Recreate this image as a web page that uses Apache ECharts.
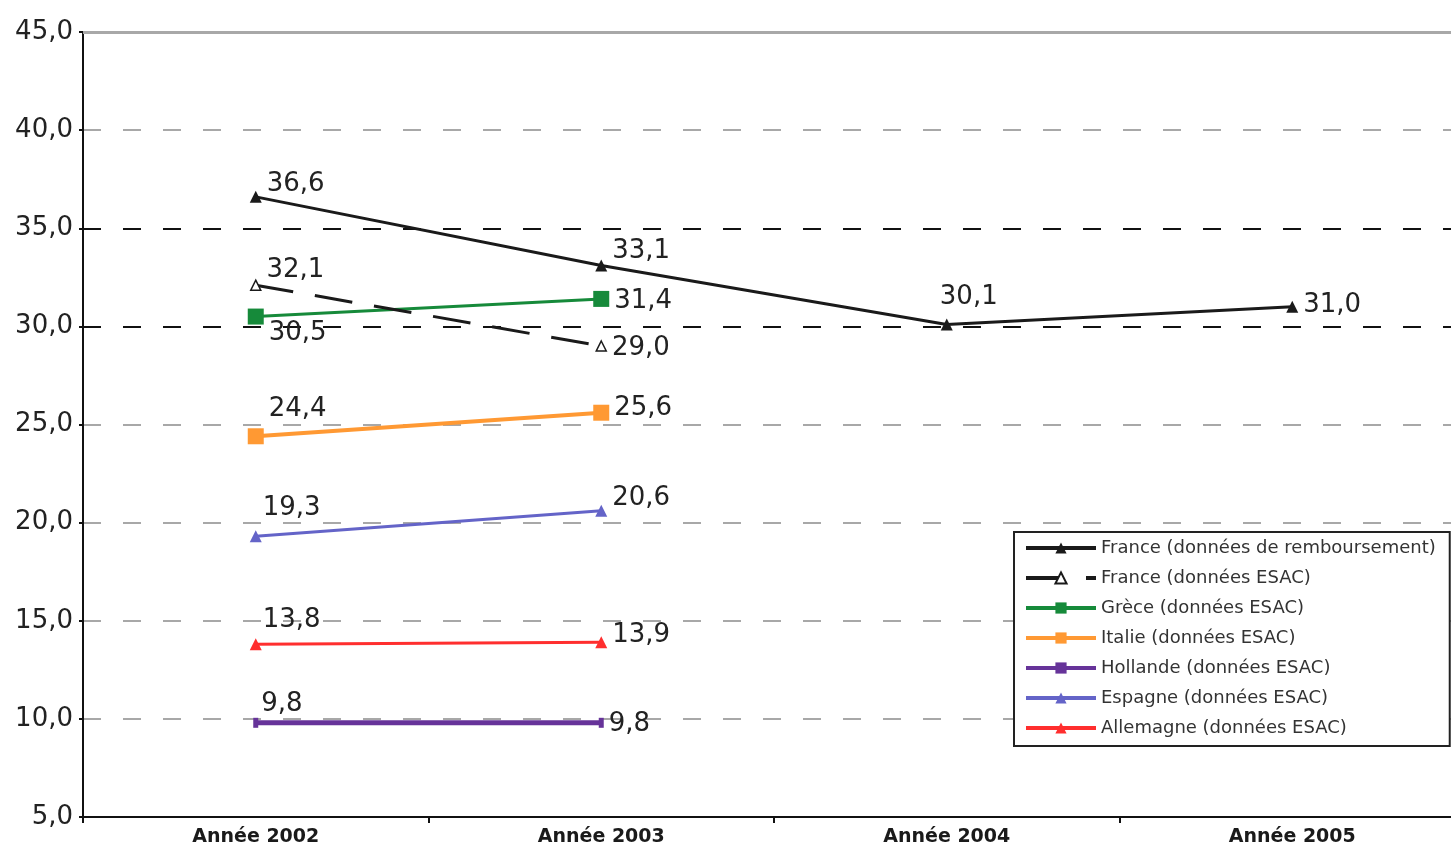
<!DOCTYPE html>
<html>
<head>
<meta charset="utf-8">
<script src="https://cdn.jsdelivr.net/npm/echarts@6/dist/echarts.min.js"></script>
<style>
  html, body { margin: 0; padding: 0; background: #fff; }
  #chart { width: 1451px; height: 848px; }
</style>
</head>
<body>
<div id="chart"></div>
<script>
// Consumption figures by country, 2002–2005
const categories = ['Année 2002', 'Année 2003', 'Année 2004', 'Année 2005'];
const yTicks = [5, 10, 15, 20, 25, 30, 35, 40, 45];

const seriesNames = [
  'France (données de remboursement)',
  'France (données ESAC)',
  'Grèce (données ESAC)',
  'Italie (données ESAC)',
  'Hollande (données ESAC)',
  'Espagne (données ESAC)',
  'Allemagne (données ESAC)'
];
const franceRemb = [36.6, 33.1, 30.1, 31.0];
const franceEsac = [32.1, 29.0, null, null];
const grece = [30.5, 31.4, null, null];
const italie = [24.4, 25.6, null, null];
const hollande = [9.8, 9.8, null, null];
const espagne = [19.3, 20.6, null, null];
const allemagne = [13.8, 13.9, null, null];

// Visual styling per series
const styles = [
  { color: '#1a1a1a', symbol: 'triangle', size: 12, type: 'solid', width: 3 },
  { color: '#1a1a1a', symbol: 'triangle', size: 10, type: [38, 22], fill: '#ffffff', width: 3 },
  { color: '#168a3a', symbol: 'rect', size: 16, type: 'solid', width: 3 },
  { color: '#ff9933', symbol: 'rect', size: 16, type: 'solid', width: 4 },
  { color: '#663399', symbol: 'rect', size: [5, 10], type: 'solid', width: 5 },
  { color: '#6464c8', symbol: 'triangle', size: 12, type: 'solid', width: 3 },
  { color: '#ff2e2e', symbol: 'triangle', size: 12, type: 'solid', width: 3 }
];

// Label placement per point: [position, dx, dy]
const labelPlacement = [
  [['right', 0, -13], ['right', 0, -14], ['top', 22, -3], ['right', 0, -2]],
  [['right', 0, -15], ['right', 0, 2]],
  [['right', 0, 17], ['right', 0, 2]],
  [['right', 0, -27], ['right', 0, -4]],
  [['right', -2, -19], ['right', 0, 1]],
  [['right', -4, -28], ['right', 0, -13]],
  [['right', -4, -24], ['right', 0, -7]]
];

const values = [franceRemb, franceEsac, grece, italie, hollande, espagne, allemagne];
const fmt = v => v.toFixed(1).replace('.', ',');

const labelFont = { fontFamily: 'DejaVu Sans', fontSize: 26, color: '#222' };

const series = values.map((vals, i) => {
  const st = styles[i];
  return {
    name: seriesNames[i],
    type: 'line',
    data: vals.map((v, j) => {
      if (v == null) return null;
      const p = labelPlacement[i][j];
      return {
        value: v,
        label: { show: true, position: p[0], offset: [p[1], p[2]], formatter: fmt(v) }
      };
    }),
    symbol: st.symbol,
    symbolSize: st.size,
    showAllSymbol: true,
    lineStyle: { color: st.color, width: st.width, type: st.type },
    itemStyle: {
      color: st.fill || st.color,
      borderColor: st.color,
      borderWidth: st.fill ? 1.5 : 0
    },
    label: Object.assign({ distance: 5 }, labelFont),
    emphasis: { disabled: true },
    z: 10 - i
  };
});

// Top boundary line at the maximum tick
series.push({
  type: 'line',
  data: [],
  silent: true,
  markLine: {
    symbol: 'none',
    silent: true,
    label: { show: false },
    lineStyle: { color: '#a8a8a8', type: 'solid', width: 3 },
    data: [{ yAxis: yTicks[yTicks.length - 1] }]
  }
});

const gridColors = yTicks.map(t => {
  if (t === 30 || t === 35) return '#111';
  if (t === 45) return 'rgba(0,0,0,0)';
  return '#a8a8a8';
});

const chart = echarts.init(document.getElementById('chart'), null, { renderer: 'canvas' });
chart.setOption({
  animation: false,
  backgroundColor: '#fff',
  grid: {
    left: 83, top: 32, width: 1382, height: 785,
    containLabel: false, outerBoundsMode: 'none'
  },
  xAxis: {
    type: 'category',
    data: categories,
    boundaryGap: true,
    axisLine: { lineStyle: { color: '#111', width: 2 } },
    axisTick: { show: true, length: 6, lineStyle: { color: '#111', width: 2 } },
    axisLabel: {
      fontFamily: 'DejaVu Sans', fontWeight: 'bold', fontSize: 19, color: '#1a1a1a', margin: 11
    },
    splitLine: { show: false }
  },
  yAxis: {
    type: 'value',
    min: yTicks[0],
    max: yTicks[yTicks.length - 1],
    interval: 5,
    axisLine: { show: true, lineStyle: { color: '#111', width: 2 } },
    axisTick: { show: true, length: 4, lineStyle: { color: '#111', width: 2 } },
    axisLabel: {
      fontFamily: 'DejaVu Sans', fontSize: 26, color: '#222', margin: 10,
      formatter: v => fmt(v)
    },
    splitLine: {
      show: true,
      lineStyle: { color: gridColors, type: [18, 22], width: 2 }
    }
  },
  legend: {
    orient: 'vertical',
    left: 1014,
    top: 532,
    data: seriesNames,
    backgroundColor: '#fff',
    borderColor: '#222',
    borderWidth: 2,
    padding: [6, 14, 8, 10],
    itemWidth: 70,
    itemHeight: 14,
    itemGap: 10,
    lineStyle: { width: 4 },
    textStyle: { fontFamily: 'DejaVu Sans', fontSize: 18, lineHeight: 20, color: '#333' },
    selectedMode: false
  },
  series: series
});
</script>
</body>
</html>
